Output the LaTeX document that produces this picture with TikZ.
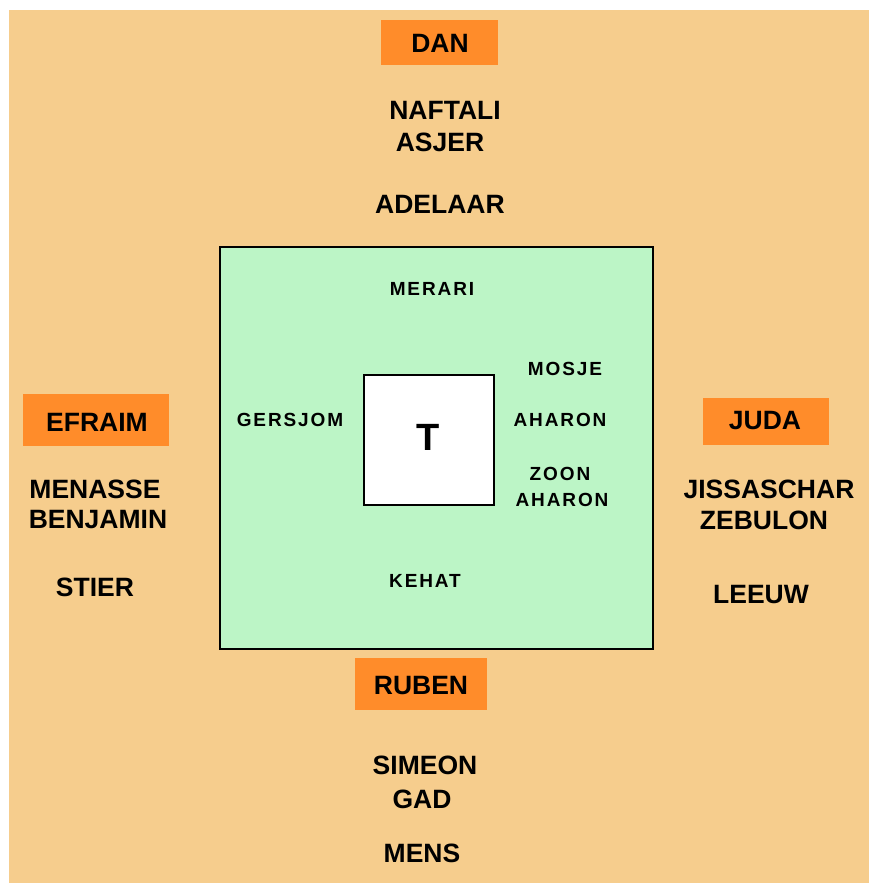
\documentclass[tikz,border=0pt]{standalone}
\usepackage{fontspec}
\setmainfont{Liberation Sans}
\newfontfamily\innerfont[LetterSpace=10]{Liberation Sans}
\definecolor{bgc}{RGB}{246,205,141}
\definecolor{orc}{RGB}{255,140,42}
\definecolor{grc}{RGB}{188,245,198}
\begin{document}
\begin{tikzpicture}[x=1pt,y=-1pt,
  big/.style={font=\fontsize{26.5}{26.5}\selectfont\bfseries, inner sep=0pt},
  small/.style={font=\innerfont\fontsize{19}{19}\selectfont\bfseries, inner sep=0pt},
  tribe/.style={fill=orc, draw=none}]
\useasboundingbox (0,0) rectangle (869,883);
\fill[white] (0,0) rectangle (869,883);
\fill[bgc] (9,10) rectangle (869,883);
% camp
\draw[fill=grc, line width=2pt] (220,247) rectangle (653,649);
\draw[fill=white, line width=2pt] (364,375) rectangle (494,505);
% tribe boxes
\fill[tribe] (381,20) rectangle (498,65);
\fill[tribe] (23,394) rectangle (169,446);
\fill[tribe] (703,398) rectangle (829,445);
\fill[tribe] (355,658) rectangle (487,710);
% north
\node[big] (dan) at (440,43) {DAN};
\node[big] (naftali) at (445,110) {NAFTALI};
\node[big] (asjer) at (440,142) {ASJER};
\node[big] (adelaar) at (440,204) {ADELAAR};
% west
\node[big] (efraim) at (97,422) {EFRAIM};
\node[big] (menasse) at (95,489) {MENASSE};
\node[big] (benjamin) at (98,520) {BENJAMIN};
\node[big] (stier) at (95,587) {STIER};
% east
\node[big] (juda) at (765,421) {JUDA};
\node[big] (jissaschar) at (769,489) {JISSASCHAR};
\node[big] (zebulon) at (764,520) {ZEBULON};
\node[big] (leeuw) at (761,595) {LEEUW};
% south
\node[big] (ruben) at (421,686) {RUBEN};
\node[big] (simeon) at (425,765) {SIMEON};
\node[big] (gad) at (422,799) {GAD};
\node[big] (mens) at (422,853) {MENS};
% inner
\node[small] (merari) at (432,289) {MERARI};
\node[small] (gersjom) at (290,420) {GERSJOM};
\node[small] (mosje) at (565,369) {MOSJE};
\node[small] (aharon) at (560,420) {AHARON};
\node[small] (zoon) at (560,474) {ZOON};
\node[small] (aharon2) at (562,500) {AHARON};
\node[small] (kehat) at (425,581) {KEHAT};
\node[font=\fontsize{38}{38}\selectfont\bfseries, inner sep=0pt] (t) at (428,437) {T};
\end{tikzpicture}
\end{document}
